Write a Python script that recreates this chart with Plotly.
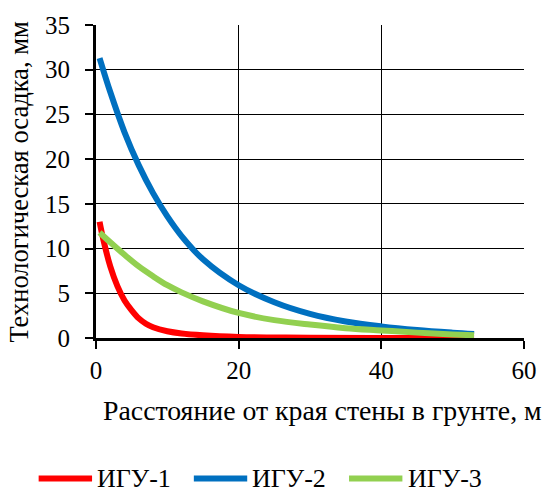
import plotly.graph_objects as go

# Distance from the wall edge, m
x_igu1 = [0.5, 1, 2, 3, 4, 5, 6, 7, 8, 10, 12, 15, 20, 25, 30, 40, 53]
y_igu1 = [13.0, 11.1, 8.0, 5.8, 4.2, 3.1, 2.2, 1.6, 1.2, 0.75, 0.5, 0.3, 0.12, 0.06, 0.03, 0.01, 0.0]

x_igu2 = [0.5, 2, 4, 6, 8, 10, 12, 15, 20, 25, 30, 35, 40, 45, 50, 53]
y_igu2 = [31.3, 27.5, 23.0, 19.3, 16.2, 13.6, 11.4, 8.8, 5.9, 4.0, 2.7, 1.85, 1.3, 0.9, 0.6, 0.45]

x_igu3 = [0.5, 2, 4, 6, 8, 10, 12, 15, 20, 25, 30, 35, 40, 45, 50, 53]
y_igu3 = [11.8, 10.7, 9.3, 8.0, 6.9, 5.9, 5.1, 4.1, 2.8, 2.0, 1.5, 1.1, 0.85, 0.6, 0.4, 0.3]

series_names = ["ИГУ-1", "ИГУ-2", "ИГУ-3"]
series_colors = ["#FF0000", "#0070C0", "#92D050"]

x_ticks = [0, 20, 40, 60]
y_ticks = [0, 5, 10, 15, 20, 25, 30, 35]

FONT = "Liberation Serif"
LINE_W = 6

fig = go.Figure()
for xs, ys, name, color in zip(
    [x_igu1, x_igu2, x_igu3], [y_igu1, y_igu2, y_igu3], series_names, series_colors
):
    fig.add_trace(go.Scatter(
        x=xs, y=ys, name=name, mode="lines", showlegend=False,
        line=dict(color=color, width=LINE_W, shape="spline", smoothing=1.0),
    ))

axis_common = dict(
    showline=True, linecolor="black", linewidth=3,
    showgrid=True, gridcolor="black", gridwidth=1.3,
    ticks="outside", ticklen=8, tickwidth=2, tickcolor="black",
    zeroline=False,
    tickfont=dict(family=FONT, size=25, color="black"),
)

fig.update_xaxes(range=[0, 60], tickvals=x_ticks, ticklabelstandoff=0, **axis_common)
fig.update_yaxes(range=[0, 35], tickvals=y_ticks, ticklabelstandoff=10, **axis_common)

fig.add_annotation(
    text="Технологическая осадка, мм", textangle=-90,
    xref="paper", yref="paper", x=-0.182, y=0.5,
    xanchor="center", yanchor="middle", showarrow=False,
    font=dict(family=FONT, size=26.5, color="black"),
)
fig.add_annotation(
    text="Расстояние от края стены в грунте, м",
    xref="paper", yref="paper", x=0.53, y=-0.2305,
    xanchor="center", yanchor="middle", showarrow=False,
    font=dict(family=FONT, size=27.8, color="black"),
)

# Legend drawn below the axes: a short line sample followed by the series name
legend_y = -0.4486
legend_font = dict(family=FONT, size=26, color="black")
legend_slots = [(-0.134, -0.0092, -0.0023), (0.2286, 0.3533, 0.3603), (0.5912, 0.7159, 0.7252)]
for (x0, x1, xt), name, color in zip(legend_slots, series_names, series_colors):
    fig.add_shape(
        type="line", xref="paper", yref="paper",
        x0=x0, x1=x1, y0=legend_y, y1=legend_y,
        line=dict(color=color, width=LINE_W),
    )
    fig.add_annotation(
        text=name, xref="paper", yref="paper", x=xt, y=legend_y,
        xanchor="left", yanchor="middle", showarrow=False, font=legend_font,
    )

fig.update_layout(
    width=549, height=499,
    margin=dict(l=96, r=20, t=17, b=161),
    paper_bgcolor="white", plot_bgcolor="white",
    font=dict(family=FONT, color="black"),
    showlegend=False,
)

fig.write_html("out.html")
